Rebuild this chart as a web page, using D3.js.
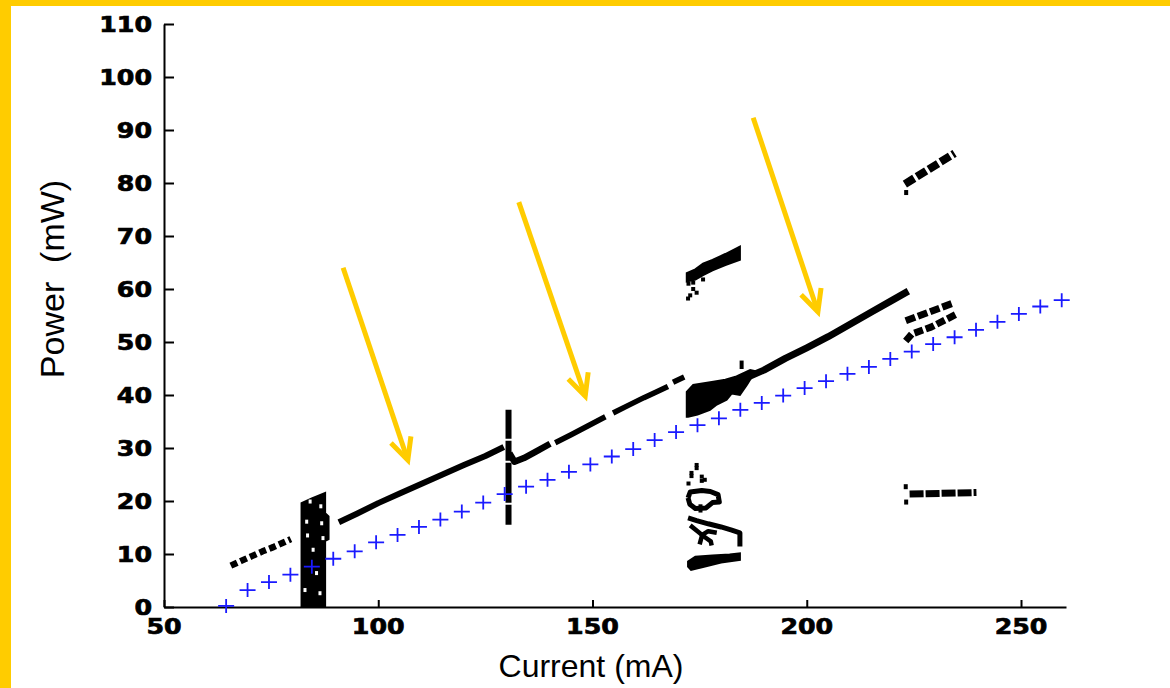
<!DOCTYPE html>
<html><head><meta charset="utf-8">
<script src="https://cdn.jsdelivr.net/npm/d3@7"></script>
<style>body{margin:0;background:#fff;} svg{display:block}</style>
</head><body><svg id="c" width="1170" height="688"></svg>
<script>
// ---------- data ----------
const xTicks = [50, 100, 150, 200, 250];
const yTicks = [0, 10, 20, 30, 40, 50, 60, 70, 80, 90, 100, 110];
const xTitle = "Current (mA)";
const yTitle = "Power  (mW)";

// blue "+" reference series (current mA, power mW)
const blueCurrent = [64.5,69.5,74.5,79.5,84.5,89.5,94.5,99.5,104.5,109.5,114.5,119.5,124.5,129.5,134.5,139.5,144.5,149.5,154.5,159.5,
                     164.5,169.5,174.5,179.5,184.5,189.5,194.5,199.5,204.5,209.5,214.5,219.5,224.5,229.5,234.5,239.5,244.5,249.5,254.5,259.5];
const bluePower   = [0.2,3.2,4.7,6.1,7.6,9.1,10.5,12.2,13.6,15.1,16.5,18.0,19.7,21.3,22.7,24.0,25.5,26.9,28.4,29.8,
                     31.5,33.0,34.3,35.6,37.2,38.5,39.9,41.3,42.6,44.0,45.3,46.8,48.2,49.6,50.9,52.3,53.8,55.3,56.7,57.9];

// black measured branches [current, power]
const dashedRun = [[65.6,7.8],[68,8.7],[70.5,9.6],[73,10.5],[75.5,11.3],[78,12.2],[79.6,12.8]];
const mainRun2  = [[90.8,16.0],[95,17.6],[100,19.6],[105,21.4],[110,23.2],[115,25.0],[120,26.8],[125,28.5],[129.3,30.2]];
const spike     = [[130.4,15.5],[130.4,37.2]];
const mainRun3a = [[130.6,29.0],[131.8,27.4],[134,28.1],[137,29.4],[140.1,30.8]];
const mainRun3b = [[141.3,31.0],[145,32.5],[149,34.2],[153,35.9]];
const mainRun3c = [[154.8,36.6],[158,37.9],[162,39.5],[165,40.6],[167.6,41.6]];
const mainRun3d = [[168.8,42.4],[171.4,43.4]];
const blobOutline = [[172.0,35.9],[172.0,40.6],[173.5,41.9],[178.2,42.5],[181,42.9],[183.6,43.5],[186.8,44.7],[188,44.5],
                     [186,41.9],[184.4,40.0],[182.5,40.3],[181.3,39.1],[179,38.2],[177.4,37.2],[174.5,36.3],[172.3,35.9]];
const spur      = [[184.8,44.9],[184.8,46.5]];
const mainRun4  = [[186,43.3],[190,44.7],[195,46.9],[200,48.9],[205,51.0],[210,53.3],[215,55.6],[220,57.9],[223.7,59.6]];

const bandOutline = [[82.1,0],[82.1,19.6],[84.5,20.5],[87.6,21.5],[87.6,17.7],[88.4,17.1],[88.4,12.8],[87.6,12.5],[87.6,0]];
const bandHoles   = [[83.3,16.1],[84.8,10.8],[86.8,15.8],[87.1,13.0],[82.9,3.2],[86.4,2.6],[84.1,19.9],[86.6,19.0],[83.5,13.5],[85.6,6.4]];

const upperOutline = [[172,61.4],[172,63.0],[174,63.7],[175.8,64.8],[178,65.5],[181,66.6],[184.4,68.0],
                      [184.4,65.5],[181,64.5],[178,63.5],[175.8,62.6],[174,61.8]];
const upperDots    = [[172.3,58.2],[172.8,58.8],[173.5,60.0],[173.5,61.2],[174.3,59.3],[175.8,61.8],[172.4,61.0]];

const lowerDots = [[174.3,26.8],[174.3,26.2],[173.1,25.3],[173.1,24.7],[175.5,24.6],[175.5,23.8],[172.4,23.3],[176.2,24.0],[175.2,19.0],[175.2,18.2]];
const lowerRing = [[172.3,20.6],[172.8,21.7],[175.5,22.0],[177.5,21.8],[179.3,21.2],[179.6,19.8],[178,19.7],[176.5,18.7],[174,18.6],[172.7,19.4],[172.3,20.6]];
const lowerTriA = [[172.3,16.8],[174.3,16.3],[177,15.7],[180,15.1],[182.5,14.5],[184.4,14.0],[184.4,11.4]];
const lowerTriB = [[172.8,15.4],[174.5,14.3],[176,13.3],[177.6,12.4],[177.8,11.6]];
const lowerTriC = [[175.0,11.8],[175.6,13.6],[177,14.3],[179,14.0]];
const lowerLoop = [[172.3,7.6],[172.3,8.6],[174,9.5],[178,9.7],[182,9.9],[184.4,10.1],[184.4,8.9],[180,8.4],[176,7.6],[173,7.0]];

const rightUpper = [[222.9,79.8],[234.5,85.6]];
const rightMid1  = [[223.1,54.0],[234.0,57.3]];
const rightMid2  = [[223.1,50.2],[224.5,51.5],[229,52.8],[235.3,55.4]];
const rightLow   = [[224,21.3],[239.6,21.6]];
const rightDots  = [[223.2,78.2],[223.1,22.7],[223.2,19.8]];

// yellow annotation arrows [startCurrent, startPower, endCurrent, endPower]
const arrows = [[91.8,64.0,106.9,27.7],[132.8,76.4,148.3,39.8],[187.5,92.3,202.6,55.7]];

// ---------- drawing ----------
const svg = d3.select("#c");
const YEL = "#FFCC00";
svg.append("rect").attr("x",0).attr("y",0).attr("width",1170).attr("height",688).attr("fill","#fff");
svg.append("rect").attr("x",0).attr("y",0).attr("width",11).attr("height",688).attr("fill",YEL);
svg.append("rect").attr("x",0).attr("y",0).attr("width",1170).attr("height",6).attr("fill",YEL);

const x = d3.scaleLinear().domain([50,260.5]).range([164,1066]);
const y = d3.scaleLinear().domain([0,110]).range([607,24]);
const line = d3.line().x(d=>x(d[0])).y(d=>y(d[1]));

// axes
const gx = svg.append("g").attr("transform","translate(0,607)")
  .call(d3.axisBottom(x).tickValues(xTicks).tickSize(-7).tickSizeOuter(0).tickFormat(""));
const gy = svg.append("g").attr("transform","translate(164,0)")
  .call(d3.axisLeft(y).tickValues(yTicks).tickSize(-10).tickSizeOuter(0).tickFormat(""));
[gx,gy].forEach(g=>{ g.selectAll("path,line").attr("stroke","#000").attr("stroke-width",2); });

const lblFont = "'DejaVu Sans', sans-serif";
svg.append("g").selectAll("text").data(yTicks).join("text")
  .attr("transform", d=>`translate(152,${y(d)}) scale(1.15,1)`)
  .attr("text-anchor","end").attr("dy","0.36em")
  .attr("font-family",lblFont).attr("font-weight","bold").attr("font-size",22)
  .attr("stroke","#000").attr("stroke-width",0.7)
  .text(d=>d);
svg.append("g").selectAll("text").data(xTicks).join("text")
  .attr("transform", d=>`translate(${x(d)},634) scale(1.15,1)`)
  .attr("text-anchor","middle")
  .attr("font-family",lblFont).attr("font-weight","bold").attr("font-size",22)
  .attr("stroke","#000").attr("stroke-width",0.7)
  .text(d=>d);

svg.append("text").attr("x",591).attr("y",677).attr("text-anchor","middle")
  .attr("font-family","'Liberation Sans', Arial, sans-serif").attr("font-size",32).text(xTitle);
svg.append("text").attr("transform","translate(64,279) rotate(-90)").attr("text-anchor","middle")
  .style("white-space","pre")
  .attr("font-family","'Liberation Sans', Arial, sans-serif").attr("font-size",34).text(yTitle);

// black data
const blk = svg.append("g");
function run(data, w, dash){
  const p = blk.append("path").attr("d",line(data)).attr("fill","none").attr("stroke","#000")
    .attr("stroke-width",w).attr("stroke-linejoin","round");
  if(dash) p.attr("stroke-dasharray",dash);
}
function poly(data){
  blk.append("path").attr("d",line(data)+"Z").attr("fill","#000").attr("stroke","#000").attr("stroke-width",2);
}
function dots(data, w, h, col){
  blk.append("g").selectAll("rect").data(data).join("rect")
    .attr("x",d=>x(d[0])-w/2).attr("y",d=>y(d[1])-h/2).attr("width",w).attr("height",h).attr("fill",col||"#000");
}
poly(bandOutline);
dots(bandHoles,3,4,"#fff");
run(dashedRun,6.5,"7,3.5");
run(mainRun2,6);
run(spike,6,"20,2,40,2");
run(mainRun3a,6.5);
run(mainRun3b,5.5);
run(mainRun3c,5.5);
run(mainRun3d,5.5);
poly(blobOutline);
run(spur,4);
run(mainRun4,7);
poly(upperOutline);
dots(upperDots,4,4);
dots(lowerDots,4,4);
run(lowerRing,5);
run(lowerTriA,5);
run(lowerTriB,4.5);
run(lowerTriC,4.5);
poly(lowerLoop);
run(rightUpper,8,"11,3");
run(rightMid1,7,"10,3");
run(rightMid2,7,"9,3");
run(rightLow,7,"14,2");
dots(rightDots,4,5);

// blue +
svg.append("g").selectAll("path").data(blueCurrent.map((c,i)=>[c,bluePower[i]])).join("path")
  .attr("d",d=>`M${x(d[0])-8},${y(d[1])}H${x(d[0])+8}M${x(d[0])},${y(d[1])-7}V${y(d[1])+7}`)
  .attr("stroke","#1a1aff").attr("stroke-width",1.8).attr("fill","none");

// arrows
const ag = svg.append("g");
arrows.forEach(a=>{
  const x1=x(a[0]), y1=y(a[1]), x2=x(a[2]), y2=y(a[3]);
  const ang = Math.atan2(y1-y2, x1-x2), L=24, sp=26*Math.PI/180;
  const ax1 = x2+L*Math.cos(ang-sp), ay1 = y2+L*Math.sin(ang-sp);
  const ax2 = x2+L*Math.cos(ang+sp), ay2 = y2+L*Math.sin(ang+sp);
  ag.append("line").attr("x1",x1).attr("y1",y1).attr("x2",x2).attr("y2",y2)
    .attr("stroke",YEL).attr("stroke-width",5);
  ag.append("path").attr("d",`M${ax1},${ay1}L${x2},${y2}L${ax2},${ay2}`)
    .attr("fill","none").attr("stroke",YEL).attr("stroke-width",5).attr("stroke-linejoin","miter");
});
</script></body></html>
